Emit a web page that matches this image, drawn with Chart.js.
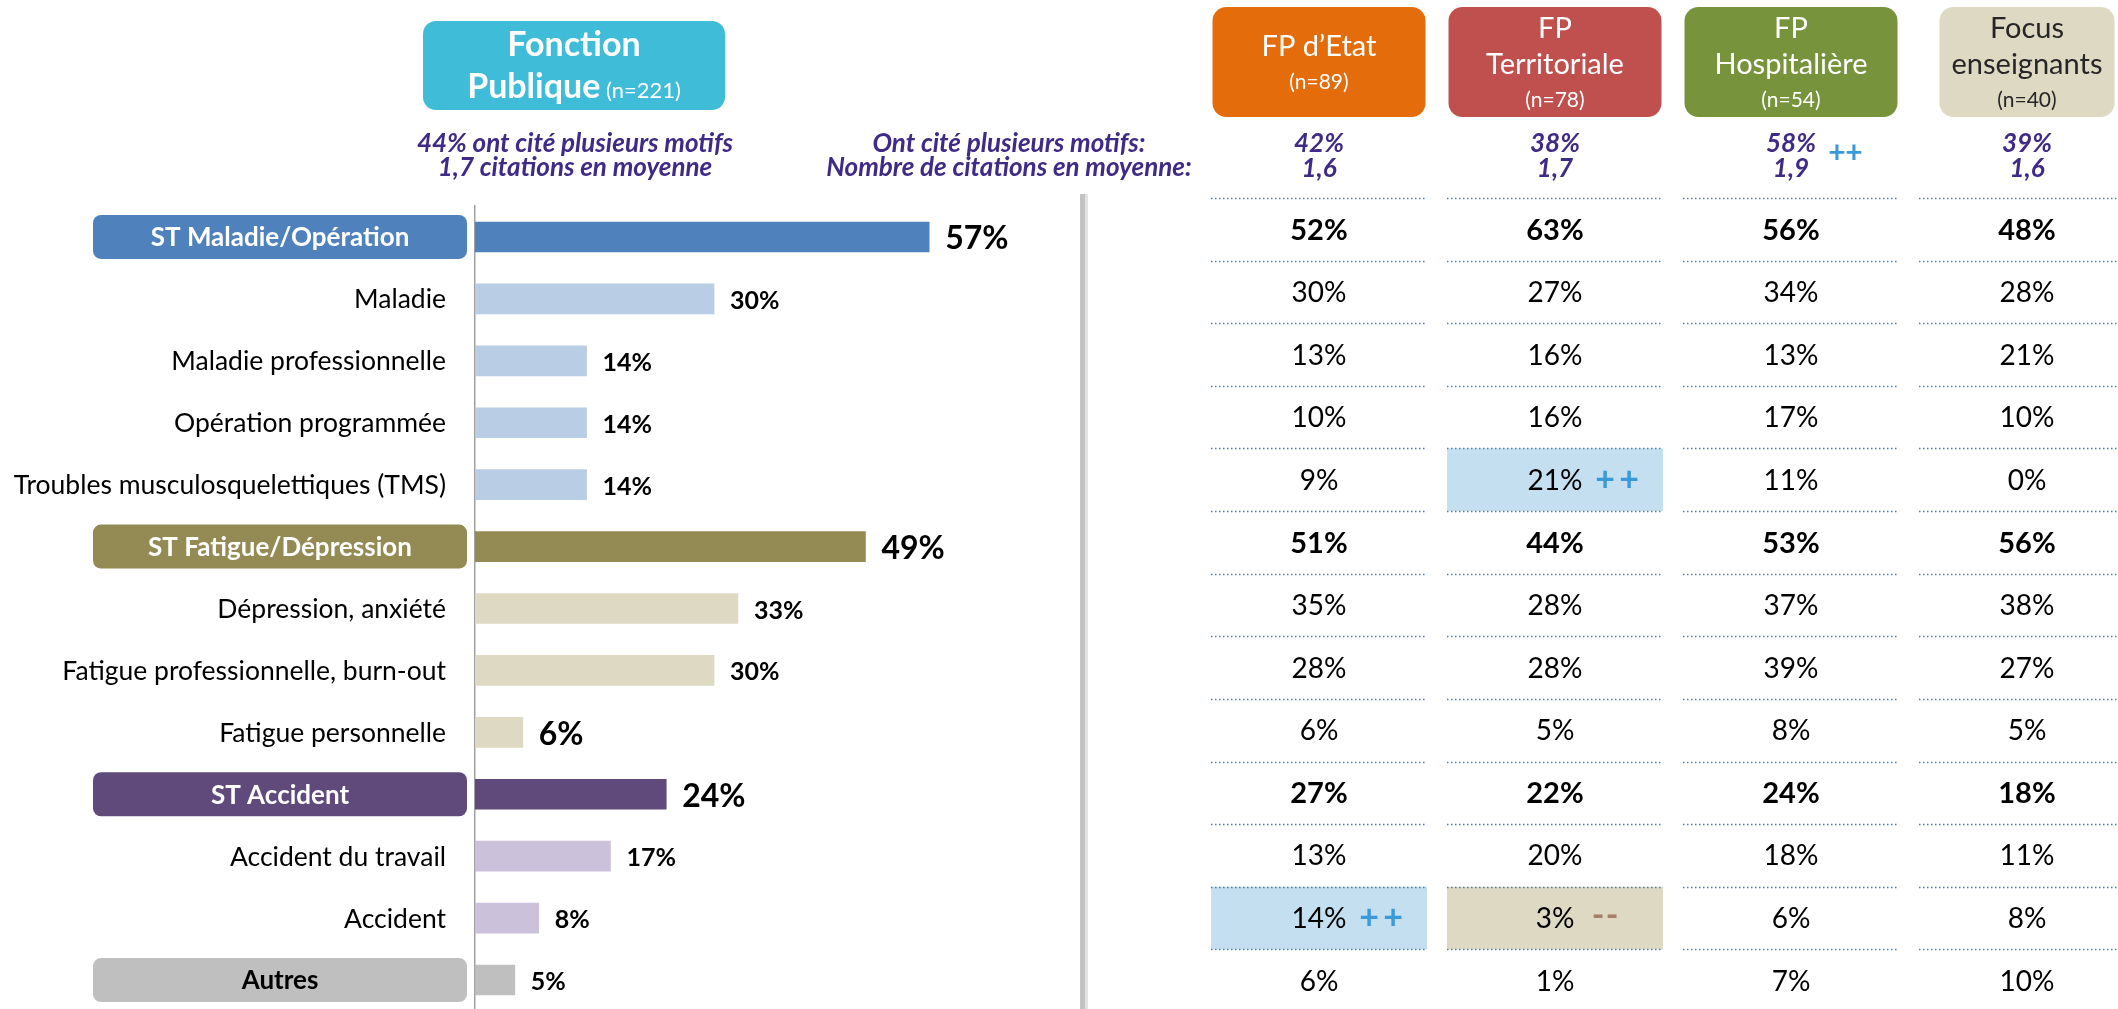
<!DOCTYPE html>
<html><head><meta charset="utf-8">
<script src="https://cdn.jsdelivr.net/npm/chart.js@4.4.1/dist/chart.umd.min.js"></script>
<style>
html,body{margin:0;padding:0;background:#fff;overflow:hidden;width:2118px;height:1009px;}
#wrap{position:relative;width:2118px;height:1009px;overflow:hidden;}
.box{position:absolute;top:0;height:1015px;}
</style></head><body>
<div id="wrap">
  <div class="box" style="left:0;width:1100px"><canvas id="cA"></canvas></div>
  <div class="box" style="left:780px;width:1365px"><canvas id="cB"></canvas></div>
</div>
<script>
// ---------- DATA ----------
const categories = ['ST Maladie/Opération','Maladie','Maladie professionnelle','Opération programmée','Troubles musculosquelettiques (TMS)','ST Fatigue/Dépression','Dépression, anxiété','Fatigue professionnelle, burn-out','Fatigue personnelle','ST Accident','Accident du travail','Accident','Autres'];
const isGroup = [true,false,false,false,false,true,false,false,false,true,false,false,true];
const isSubtotal = [true,false,false,false,false,true,false,false,false,true,false,false,false];
const totalValues = [57,30,14,14,14,49,33,30,6,24,17,8,5];
const totalN = 221;
const totalMulti = 44;
const totalAvg = '1,7';

const columnNames = [['FP d’Etat'],['FP','Territoriale'],['FP','Hospitalière'],['Focus','enseignants']];
const columnN = [89,78,54,40];
const columnMulti = [42,38,58,39];
const columnAvg = ['1,6','1,7','1,9','1,6'];
const columnMultiSig = [null,null,'+',null];

const fpEtat          = [52,30,13,10, 9,51,35,28,6,27,13,14, 6];
const fpTerritoriale  = [63,27,16,16,21,44,28,28,5,22,20, 3, 1];
const fpHospitaliere  = [56,34,13,17,11,53,37,39,8,24,18, 6, 7];
const focusEnseignants= [48,28,21,10, 0,56,38,27,5,18,11, 8,10];
const tableColumns = [fpEtat, fpTerritoriale, fpHospitaliere, focusEnseignants];

// significance: [row, column, sign]
const significance = [[4,1,'+'],[11,0,'+'],[11,1,'-']];

// ---------- STYLE ----------
const FF = "Lato, 'Noto Sans', sans-serif";
const groupColors = {0:'#4F81BD',5:'#948A54',9:'#604A7B',12:'#BFBFBF'};
const subColors   = {0:'#B9CDE5',5:'#DDD9C3',9:'#CCC1DA',12:'#BFBFBF'};
function colorFor(i){ let g=0; for(const k of [0,5,9,12]) if(i>=k) g=k; return isGroup[i]?groupColors[g]:subColors[g]; }
const barColors = categories.map((_,i)=>colorFor(i));
const bigLabel = totalValues.map((v,i)=>isSubtotal[i] || i===8);
const headerColors = ['#E46C0A','#C0504D','#77933C','#DDD9C3'];
const headerText = ['#FFFFFF','#FFFFFF','#FFFFFF','#262626'];
const headerW = [213,213,213,175];
const purple = '#3F2A87';
const plusColor = '#3A9AD9', minusColor = '#A67F68';

function rr(ctx,x,y,w,h,r,fill){ctx.beginPath();ctx.roundRect(x,y,w,h,r);ctx.fillStyle=fill;ctx.fill();}

const decorA = {
  id:'decorA',
  afterDraw(chart){
    const ctx = chart.ctx, ys = chart.scales.y;
    ctx.save();
    // title box
    rr(ctx,423,21,302,89,13,'#3FBCD8');
    ctx.fillStyle='#fff'; ctx.textAlign='center'; ctx.textBaseline='alphabetic';
    ctx.font = 'bold 34px '+FF; ctx.fillText('Fonction',574,56);
    const t1='Publique', t2=' (n='+totalN+')';
    ctx.font='bold 34px '+FF; const w1=ctx.measureText(t1).width;
    ctx.font='22px '+FF; const w2=ctx.measureText(t2).width;
    let sx = 574-(w1+w2)/2; ctx.textAlign='left';
    ctx.font='bold 34px '+FF; ctx.fillText(t1,sx,98);
    ctx.font='22px '+FF; ctx.fillText(t2,sx+w1,98);
    // overall stats
    ctx.fillStyle=purple; ctx.textAlign='center'; ctx.textBaseline='middle';
    ctx.font='italic bold 26px '+FF;
    ctx.fillText(totalMulti+'% ont cité plusieurs motifs',575,144);
    ctx.fillText(totalAvg+' citations en moyenne',575,168);
    // category labels
    categories.forEach((c,i)=>{
      const y = ys.getPixelForValue(i);
      if(isGroup[i]){
        rr(ctx,93,y-22,374,44,8,barColors[i]);
        ctx.fillStyle = i===12 ? '#000' : '#fff';
        ctx.font='bold 26px '+FF; ctx.textAlign='center';
        ctx.fillText(c,280,y+1);
      } else {
        ctx.fillStyle='#000'; ctx.font='26.5px '+FF; ctx.textAlign='right';
        ctx.fillText(c,446,y+1);
      }
    });
    // value labels
    const meta = chart.getDatasetMeta(0);
    meta.data.forEach((el,i)=>{
      ctx.fillStyle='#000'; ctx.textAlign='left';
      ctx.font='bold '+(bigLabel[i]?32:25)+'px '+FF;
      ctx.fillText(totalValues[i]+'%', el.x+16, el.y+2);
    });
    // separator
    ctx.fillStyle='#C2C2C2'; ctx.fillRect(1080,194,5,830);
    ctx.fillStyle='#E4E4E4'; ctx.fillRect(1085,194,3,830);
    ctx.restore();
  }
};

new Chart(document.getElementById('cA'),{
  type:'bar',
  data:{labels:categories,datasets:[{data:totalValues,backgroundColor:barColors,borderWidth:0,barThickness:30}]},
  options:{
    indexAxis:'y',responsive:true,maintainAspectRatio:false,animation:false,
    layout:{padding:{left:475,right:25,top:206,bottom:4}},
    plugins:{legend:{display:false},tooltip:{enabled:false}},
    scales:{
      x:{display:false,min:0,max:75.3},
      y:{ticks:{display:false},grid:{display:false,drawTicks:false},border:{display:true,color:'#A0A0A0',width:1.5},afterFit(s){s.width=0;}}
    }
  },
  plugins:[decorA]
});

// ---------- TABLE CHART ----------
function hlData(sign){
  return tableColumns.map((_,c)=>{
    const s = significance.find(d=>d[1]===c && d[2]===sign);
    return s ? [s[0]-0.5, s[0]+0.5] : null;
  });
}

const decorB = {
  id:'decorB',
  afterDatasetsDraw(chart){
    const ctx=chart.ctx, xs=chart.scales.x, ys=chart.scales.y;
    const colW=(xs.right-xs.left)/tableColumns.length, half=colW*0.915/2;
    ctx.save();
    ctx.textAlign='center'; ctx.textBaseline='middle';
    // left header of stats
    ctx.fillStyle=purple; ctx.font='italic bold 26px '+FF;
    ctx.fillText('Ont cité plusieurs motifs:', xs.left-192, 144);
    ctx.fillText('Nombre de citations en moyenne:', xs.left-192, 168);
    tableColumns.forEach((col,c)=>{
      const cx = xs.getPixelForValue(c);
      // header box
      rr(ctx,cx-headerW[c]/2,7,headerW[c],110,14,headerColors[c]);
      ctx.fillStyle=headerText[c];
      const lines = columnNames[c];
      const ysL = lines.length===1 ? [47,82] : [29,65,100];
      lines.forEach((l,k)=>{ctx.font='29px '+FF; ctx.fillText(l,cx,ysL[k]);});
      ctx.font='21px '+FF; ctx.fillText('(n='+columnN[c]+')',cx,ysL[lines.length]);
      // stats
      ctx.fillStyle=purple; ctx.font='italic bold 26px '+FF;
      ctx.fillText(columnMulti[c]+'%',cx,144);
      ctx.fillText(columnAvg[c],cx,169);
      if(columnMultiSig[c]==='+'){
        ctx.fillStyle=plusColor; ctx.font='bold 30px '+FF;
        ctx.fillText('+',cx+46,153); ctx.fillText('+',cx+63,153);
      }
      // dotted lines
      ctx.strokeStyle='#4A7EB0'; ctx.lineWidth=1.5; ctx.setLineDash([1.5,2.5]);
      for(let r=0;r<col.length;r++){
        const y=Math.round(ys.getPixelForValue(r-0.5))+0.5;
        ctx.beginPath(); ctx.moveTo(cx-half,y); ctx.lineTo(cx+half,y); ctx.stroke();
      }
      ctx.setLineDash([]);
      // cells
      col.forEach((v,r)=>{
        const y=ys.getPixelForValue(r);
        ctx.fillStyle='#000';
        ctx.font=(isSubtotal[r]?'bold 29px ':'28px ')+FF;
        ctx.fillText(v+'%',cx,y+1);
      });
    });
    // significance marks
    significance.forEach(([r,c,s])=>{
      const cx=xs.getPixelForValue(c), y=ys.getPixelForValue(r);
      if(s==='+'){ ctx.fillStyle=plusColor; ctx.font='bold 34px '+FF; ctx.fillText('+',cx+50,y); ctx.fillText('+',cx+74,y); }
      else { ctx.fillStyle=minusColor; ctx.font='bold 34px '+FF; ctx.fillText('-',cx+43,y-2); ctx.fillText('-',cx+57,y-2); }
    });
    ctx.restore();
  }
};

new Chart(document.getElementById('cB'),{
  type:'bar',
  data:{labels:columnNames.map(l=>l.join(' ')),datasets:[
    {data:hlData('+'),backgroundColor:'#C4E0F0',borderWidth:0,grouped:false,barPercentage:0.915,categoryPercentage:1},
    {data:hlData('-'),backgroundColor:'#DDD9C3',borderWidth:0,grouped:false,barPercentage:0.915,categoryPercentage:1}
  ]},
  options:{
    responsive:true,maintainAspectRatio:false,animation:false,
    layout:{padding:{left:421,right:0,top:198,bottom:3}},
    plugins:{legend:{display:false},tooltip:{enabled:false}},
    scales:{
      x:{display:false},
      y:{display:false,min:-0.5,max:12.5,reverse:true}
    }
  },
  plugins:[decorB]
});
</script>
</body></html>
